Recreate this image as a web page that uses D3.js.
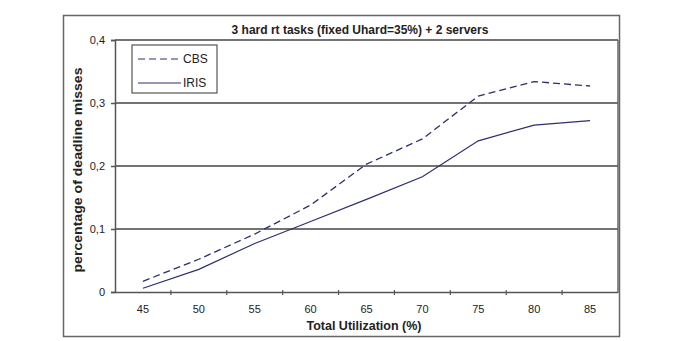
<!DOCTYPE html>
<html lang="en">
<head>
<meta charset="UTF-8">
<title>deadline misses</title>
<style>
  body { margin: 0; background: #fff; }
  text { font-family: "Liberation Sans", Arial, sans-serif; fill: #222; }
</style>
</head>
<body>
<div id="chart"></div>
<script src="https://cdnjs.cloudflare.com/ajax/libs/d3/7.8.5/d3.min.js"></script>
<script>
// data
var utilization = ["45", "50", "55", "60", "65", "70", "75", "80", "85"];
var cbs  = [0.017, 0.052, 0.092, 0.138, 0.203, 0.243, 0.311, 0.334, 0.327];
var iris = [0.006, 0.036, 0.077, 0.112, 0.147, 0.183, 0.240, 0.265, 0.272];
var yTicks = [0, 0.1, 0.2, 0.3, 0.4];

var W = 699, H = 341;
var margin = {top: 40, right: 81, bottom: 49, left: 115};
var width = W - margin.left - margin.right,
    height = H - margin.top - margin.bottom;

var root = d3.select("#chart").append("svg")
  .attr("width", W).attr("height", H);

// outer frame
root.append("rect")
  .attr("x", 63.5).attr("y", 15.5)
  .attr("width", 556).attr("height", 321)
  .attr("fill", "none").attr("stroke", "#666").attr("stroke-width", 1.5);

var svg = root.append("g")
  .attr("transform", "translate(" + margin.left + "," + margin.top + ")");

var x = d3.scaleBand().domain(utilization).range([0, width]);
var y = d3.scaleLinear().domain([0, 0.4]).range([height, 0]);

// gridlines
svg.selectAll(".grid")
  .data(yTicks.filter(function(d) { return d > 0; }))
  .enter().append("line")
  .attr("x1", 0).attr("x2", width)
  .attr("y1", function(d) { return y(d); })
  .attr("y2", function(d) { return y(d); })
  .attr("stroke", "#444").attr("stroke-width", 1.5);

// right border of plot
svg.append("line")
  .attr("x1", width).attr("x2", width)
  .attr("y1", 0).attr("y2", height)
  .attr("stroke", "#666").attr("stroke-width", 1.5);

// y axis
var fmt = function(d) { return d === 0 ? "0" : d3.format(".1f")(d).replace(".", ","); };
var yAxis = svg.append("g")
  .call(d3.axisLeft(y).tickValues(yTicks).tickFormat(fmt).tickSize(4).tickPadding(6));
yAxis.selectAll("text").style("font-size", "11px").attr("fill", "#333");
yAxis.selectAll("line, path").attr("stroke", "#555").attr("stroke-width", 1.5);

// x axis: ticks at category boundaries
var xAxis = svg.append("g")
  .attr("transform", "translate(0," + height + ")")
  .call(d3.axisBottom(x).tickSize(0).tickPadding(13));
xAxis.selectAll("text").style("font-size", "11px").attr("fill", "#333");
xAxis.select(".domain").attr("stroke", "#555").attr("stroke-width", 1.5);
xAxis.selectAll(".bound")
  .data(utilization.slice(1))
  .enter().append("line")
  .attr("x1", function(d) { return x(d); })
  .attr("x2", function(d) { return x(d); })
  .attr("y1", -2).attr("y2", 3)
  .attr("stroke", "#555").attr("stroke-width", 1.2);

// lines
var line = d3.line()
  .x(function(d, i) { return x(utilization[i]) + x.bandwidth() / 2; })
  .y(function(d) { return y(d); });

svg.append("path").datum(cbs)
  .attr("d", line).attr("fill", "none")
  .attr("stroke", "#2e2e6e").attr("stroke-width", 1.3)
  .attr("stroke-dasharray", "7,4");

svg.append("path").datum(iris)
  .attr("d", line).attr("fill", "none")
  .attr("stroke", "#2e2e6e").attr("stroke-width", 1.2);

// legend
var lg = root.append("g").attr("transform", "translate(132,45)");
lg.append("rect").attr("width", 85).attr("height", 48)
  .attr("fill", "#fff").attr("stroke", "#555").attr("stroke-width", 1.2);
var items = [{name: "CBS", dash: "7,4"}, {name: "IRIS", dash: null}];
items.forEach(function(it, i) {
  var yy = 14 + i * 24;
  lg.append("line").attr("x1", 6).attr("x2", 49)
    .attr("y1", yy).attr("y2", yy)
    .attr("stroke", "#2e2e6e").attr("stroke-width", 1.2)
    .attr("stroke-dasharray", it.dash);
  lg.append("text").attr("x", 51).attr("y", yy + 4)
    .style("font-size", "12px").attr("fill", "#333").text(it.name);
});

// titles
root.append("text")
  .attr("x", 360).attr("y", 34).attr("text-anchor", "middle")
  .style("font-size", "12px").style("font-weight", "bold")
  .text("3 hard rt tasks (fixed Uhard=35%) + 2 servers");

root.append("text")
  .attr("x", 364).attr("y", 330).attr("text-anchor", "middle")
  .style("font-size", "12.5px").style("font-weight", "bold")
  .text("Total Utilization (%)");

root.append("text")
  .attr("transform", "translate(82,170) rotate(-90)")
  .attr("text-anchor", "middle")
  .attr("textLength", 205).attr("lengthAdjust", "spacingAndGlyphs")
  .style("font-size", "13.5px").style("font-weight", "bold")
  .text("percentage of deadline misses");
</script>
</body>
</html>
